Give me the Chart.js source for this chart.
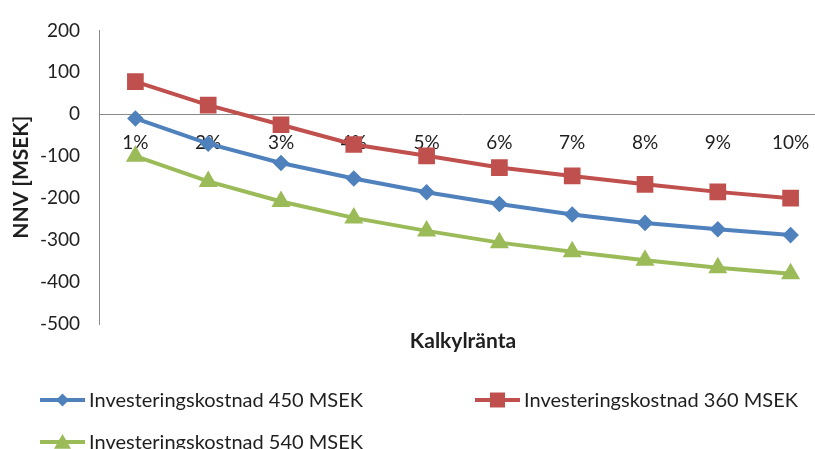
<!DOCTYPE html>
<html>
<head>
<meta charset="utf-8">
<script src="https://cdn.jsdelivr.net/npm/chart.js@4/dist/chart.umd.min.js"></script>
<style>
  html, body { margin: 0; padding: 0; background: #fff; width: 815px; height: 449px; overflow: hidden; }
  #wrap { width: 845px; height: 449px; }
</style>
</head>
<body>
<div id="wrap"><canvas id="c" width="845" height="449"></canvas></div>
<script>
// Kalkylränta (discount rate) categories
const rates = ['1%', '2%', '3%', '4%', '5%', '6%', '7%', '8%', '9%', '10%'];

// NNV [MSEK] per investment cost
const npv450 = [-10, -70, -116, -153, -186, -214, -239, -259, -274, -288];
const npv360 = [78, 22, -25, -72, -99, -127, -147, -167, -185, -200];
const npv540 = [-100, -160, -208, -247, -278, -306, -328, -348, -366, -380];

const seriesNames = [
  'Investeringskostnad 450 MSEK',
  'Investeringskostnad 360 MSEK',
  'Investeringskostnad 540 MSEK'
];

// value axis range
const yMin = -500;
const yMax = 200;
const yStep = 100;

const xTitle = 'Kalkylränta';
const yTitle = 'NNV [MSEK]';

const FONT = 'Lato, "Liberation Sans", sans-serif';
const TEXT = '#1f1f1f';
const AXIS = '#8a8a8a';

function marker(ctx, style, x, y, r) {
  ctx.beginPath();
  if (style === 'rectRot') {
    ctx.moveTo(x, y - r); ctx.lineTo(x + r, y); ctx.lineTo(x, y + r); ctx.lineTo(x - r, y);
  } else if (style === 'rect') {
    ctx.rect(x - r, y - r, 2 * r, 2 * r);
  } else {
    const h = r * Math.sqrt(3);
    ctx.moveTo(x, y - h * 0.55); ctx.lineTo(x + r, y + h * 0.45); ctx.lineTo(x - r, y + h * 0.45);
  }
  ctx.closePath();
  ctx.fill();
}

// x-axis title and the two-column legend below the plot
const extras = {
  id: 'extras',
  afterDraw(chart) {
    const ctx = chart.ctx;
    ctx.save();
    ctx.fillStyle = TEXT;
    ctx.font = 'bold 21px ' + FONT;
    ctx.textAlign = 'center';
    ctx.textBaseline = 'alphabetic';
    const ca = chart.chartArea;
    ctx.fillText(xTitle, (ca.left + ca.right) / 2, 348);

    const slots = [
      { x: 40, y: 400, r: 6.5 },
      { x: 475, y: 400, r: 7.5 },
      { x: 40, y: 442, r: 8.5 }
    ];
    chart.data.datasets.forEach((ds, i) => {
      const s = slots[i];
      ctx.strokeStyle = ds.borderColor;
      ctx.fillStyle = ds.borderColor;
      ctx.lineWidth = 4;
      ctx.beginPath();
      ctx.moveTo(s.x, s.y);
      ctx.lineTo(s.x + 45, s.y);
      ctx.stroke();
      marker(ctx, ds.pointStyle, s.x + 22.5, s.y, s.r);
      ctx.fillStyle = TEXT;
      ctx.font = '20px ' + FONT;
      ctx.textAlign = 'left';
      ctx.textBaseline = 'middle';
      ctx.fillText(ds.label, s.x + 49, s.y + 1);
    });
    ctx.restore();
  }
};

new Chart(document.getElementById('c'), {
  type: 'line',
  data: {
    labels: rates,
    datasets: [
      {
        label: seriesNames[0], data: npv450,
        borderColor: '#4F81BD', backgroundColor: '#4F81BD',
        pointStyle: 'rectRot', pointRadius: 8.3, pointBorderWidth: 0
      },
      {
        label: seriesNames[1], data: npv360,
        borderColor: '#C0504D', backgroundColor: '#C0504D',
        pointStyle: 'rect', pointRadius: 11.8, pointBorderWidth: 0
      },
      {
        label: seriesNames[2], data: npv540,
        borderColor: '#9BBB59', backgroundColor: '#9BBB59',
        pointStyle: 'triangle', pointRadius: 11, pointBorderWidth: 0
      }
    ]
  },
  options: {
    responsive: false,
    animation: false,
    devicePixelRatio: 1,
    layout: { padding: { left: 0, right: 18, top: 27, bottom: 125 } },
    elements: {
      line: { borderWidth: 4, tension: 0 },
      point: { hoverRadius: 8 }
    },
    plugins: {
      legend: { display: false },
      tooltip: { enabled: false }
    },
    scales: {
      x: {
        position: { y: 0 },
        offset: true,
        z: 1,
        grid: { display: false, drawTicks: false, offset: true },
        border: { display: true, color: AXIS, width: 1 },
        ticks: {
          color: TEXT, font: { family: FONT, size: 19 },
          padding: 17, maxRotation: 0, autoSkip: false
        }
      },
      y: {
        min: yMin, max: yMax,
        grid: { display: false, drawTicks: false },
        border: { display: true, color: AXIS, width: 1 },
        ticks: {
          stepSize: yStep, color: TEXT,
          font: { family: FONT, size: 19 }, padding: 19
        },
        title: {
          display: true, text: yTitle, color: TEXT,
          font: { family: FONT, size: 21, weight: 'bold' },
          padding: { top: 9, bottom: 0 }
        },
        afterFit(scale) { scale.width = 99; }
      }
    }
  },
  plugins: [extras]
});
</script>
</body>
</html>
